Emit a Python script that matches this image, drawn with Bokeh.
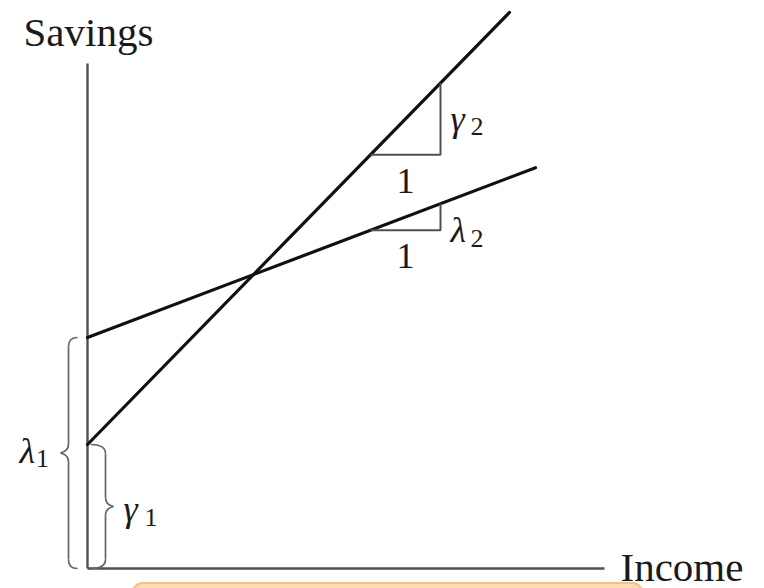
from bokeh.plotting import figure
from bokeh.models import Range1d
from bokeh.core.properties import value
from bokeh.embed import file_html
from bokeh.resources import INLINE

# Two linear savings functions: savings = intercept + slope * income
line_names = ["gamma", "lambda"]
intercepts = [12.4, 23.1]
slopes = [1.024, 0.379]
income_end = [42.2, 44.8]

# Letters used for the intercept (subscript 1) and slope (subscript 2) labels
greek = ["γ", "λ"]
axis_labels = ["Income", "Savings"]
run_label = "1"

# Extent of the drawn axes
income_axis_len = 51.7
savings_axis_len = 50.5

INK = "#111111"
GREY = "#505050"
TXT = "#1a1a1a"

p = figure(width=764, height=588, x_range=Range1d(-8.7, 67.7), y_range=Range1d(-2.0, 56.8),
           x_axis_type=None, y_axis_type=None, toolbar_location=None,
           output_backend="svg", min_border=0)
p.outline_line_color = None
p.grid.visible = False
p.background_fill_color = "white"
p.border_fill_color = "white"

# soft highlighted strip under the income axis
p.quad(left=[4.5], right=[55.5], top=[-1.45], bottom=[-3.5], fill_color="#fddcb4",
       line_color="#f8c084", line_width=2, border_radius=14)

# axes
p.line([0, 0], [0, savings_axis_len], line_color=GREY, line_width=2.4)
p.line([0, income_axis_len], [0, 0], line_color=GREY, line_width=2.4)


def label(x, y, s, size, align="left", italic=False, dy=0):
    p.text(x=[x], y=[y], text=[s], text_font=value("Liberation Serif"), text_font_size=size,
           text_font_style="italic" if italic else "normal", text_color=TXT,
           text_align=align, text_baseline="middle", y_offset=dy)


label(-6.4, 53.7, axis_labels[1], "41px")
label(53.3, 0.2, axis_labels[0], "41px")

# savings lines
for b, m, xe in zip(intercepts, slopes, income_end):
    p.line([0, xe], [b, b + m * xe], line_color=INK, line_width=3.2, line_cap="round")

# slope triangles (run of one unit)
run_end = 35.3
run = 7.0
for i, (b, m) in enumerate(zip(intercepts, slopes)):
    x0 = run_end - run
    y0 = b + m * x0
    y1 = b + m * run_end
    p.line([x0, run_end, run_end], [y0, y0, y1], line_color=GREY, line_width=2)
    label((x0 + run_end) / 2, y0 - 2.6, run_label, "36px", align="center")
    gy = (y0 + y1) / 2 if i == 0 else y0
    label(run_end + 1.0, gy, greek[i], "36px", italic=True)
    label(run_end + 3.0, gy, "2", "26px", dy=8)


def brace(xe, d, top, w1=0.9, w2=0.8, r=0.9):
    """Vertical curly brace from 0 to `top`, attached at xe and opening in direction d."""
    xm = xe + d * w1
    xt = xm + d * w2
    ym = top / 2
    segs = dict(x0=[xe, xm, xt, xm], y0=[top, ym + r, ym, 0.0 + r],
                x1=[xm, xt, xm, xe], y1=[top - r, ym, ym - r, 0.0],
                cx=[xm, xm, xm, xm], cy=[top, ym + 0.2 * r, ym - 0.2 * r, 0.0])
    p.quadratic(line_color="#666666", line_width=1.7, **segs)
    p.line([xm, xm], [top - r, ym + r], line_color="#666666", line_width=1.7)
    p.line([xm, xm], [ym - r, r], line_color="#666666", line_width=1.7)
    return xt, ym


# intercept braces: lambda on the left of the axis, gamma on the right
tx, ty = brace(-1.0, -1, intercepts[1])
label(tx - 2.55, ty, greek[1], "36px", align="right", italic=True, dy=-2)
label(tx - 2.45, ty, "1", "26px", dy=5)

tx, ty = brace(0.3, 1, intercepts[0], w1=1.5)
label(tx + 1.0, ty, greek[0], "36px", italic=True, dy=2)
label(tx + 3.1, ty, "1", "26px", dy=11)

open("out.html", "w").write(file_html(p, INLINE))
